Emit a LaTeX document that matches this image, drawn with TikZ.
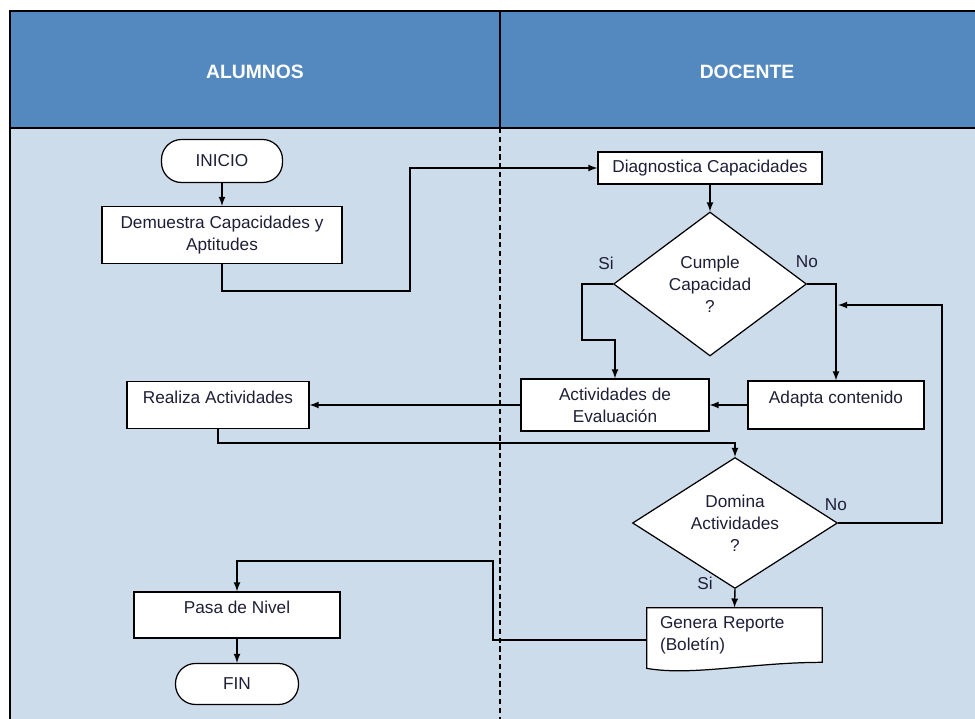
\documentclass[tikz,border=0pt]{standalone}
\usepackage{fontspec}
\setmainfont{Liberation Sans}
\usepackage{tikz}
\usetikzlibrary{arrows}
\usetikzlibrary{shapes.geometric}
\usetikzlibrary{backgrounds}
\definecolor{headblue}{RGB}{84,137,192}
\definecolor{lanefill}{RGB}{205,220,234}
\definecolor{inkdark}{RGB}{30,30,55}
\tikzset {
  >=latex,
  font=\fontsize{9.8pt}{12.5pt}\selectfont,
  % plain process boxes
  proc/.style = {draw, fill=white, text=inkdark, align=center, inner sep=0pt, line width=0.7pt},
  % boxes with the text near the top
  topproc/.style = {proc, text depth=0.3cm},
  % start and end
  term/.style = {proc, rounded corners=0.4cm},
  % questions
  decision/.style = {draw, diamond, fill=white, text=inkdark, align=center, inner sep=0pt, line width=0.7pt},
  % report, its wavy outline is drawn by hand
  report/.style = {text=inkdark, align=left, inner xsep=0.26cm, text width=2.98cm, minimum height=1.08cm},
  % connectors
  flow/.style = {->, line width=0.8pt},
  lbl/.style = {text=inkdark},
  lanehead/.style = {text=white, font=\fontsize{11pt}{13pt}\selectfont\bfseries},
}

\begin{document}
\begin{tikzpicture}[x=0.02cm, y=-0.02cm]
        \useasboundingbox (0,0) rectangle (975,719);
        \begin{pgfonlayer}{background}
          \fill[lanefill] (10,128) rectangle (975,719);
          \fill[headblue] (10,11) rectangle (975,128);
        \end{pgfonlayer}
        \draw[line width=0.8pt] (975,11) -- (10,11) -- (10,719);
        \draw[line width=0.8pt] (10,128) -- (975,128);
        \draw[line width=0.8pt] (500,11) -- (500,128);
        \draw[line width=0.8pt, dash pattern=on 3pt off 2pt] (500,128) -- (500,719);

        \node[lanehead] (halu) at (255,72) {ALUMNOS};
        \node[lanehead] (hdoc) at (747,72) {DOCENTE};

        % alumnos
        \node[term, minimum width=2.42cm, minimum height=0.86cm] (ini) at (222,161) {INICIO};
        \node[proc, minimum width=4.8cm, minimum height=1.14cm] (dem) at (222,235) {Demuestra Capacidades y\\Aptitudes};
        \node[topproc, minimum width=3.64cm, minimum height=0.94cm] (rea) at (218,405) {Realiza Actividades};
        \node[topproc, minimum width=4.12cm, minimum height=0.92cm] (pas) at (237,615) {Pasa de Nivel};
        \node[term, minimum width=2.46cm, minimum height=0.82cm] (fin) at (237,684) {FIN};

        % docente
        \node[proc, minimum width=4.48cm, minimum height=0.64cm] (diag) at (710,168) {Diagnostica Capacidades};
        \node[decision, aspect=1.34, minimum width=3.86cm, minimum height=2.88cm] (cum) at (710,284) {Cumple\\Capacidad\\?};
        \node[proc, minimum width=3.76cm, minimum height=1.04cm] (act) at (615,405) {Actividades de\\Evaluación};
        \node[topproc, minimum width=3.52cm, minimum height=0.96cm] (ada) at (836,405) {Adapta contenido};
        \node[decision, aspect=1.56, minimum width=4.1cm, minimum height=2.62cm] (dom) at (735,523) {Domina\\Actividades\\?};
        \node[report] (rep) at (734.5,635) {Genera Reporte\\(Boletín)};
        \begin{pgfonlayer}{background}
          \draw[fill=white, line width=0.7pt] (rep.north west) -- (rep.north east) -- (rep.south east)
            .. controls +(-70,0) and +(45,8) .. ([yshift=-0.12cm]rep.south west) -- cycle;
        \end{pgfonlayer}

        \node[lbl] (csi) at (606,263) {Si};
        \node[lbl] (cno) at (807,262) {No};
        \node[lbl] (dno) at (836,505) {No};
        \node[lbl] (dsi) at (705,583) {Si};

        \coordinate (c1) at (410,291);
        \coordinate (c2) at (582,340);
        \coordinate (c3) at (735,443);
        \coordinate (c4) at (942,305);
        \coordinate (c5) at (838,305);
        \coordinate (c6) at (493,561);

        \draw[flow] (ini) -- (dem);
        \draw[flow] (dem.south) |- (c1) |- (diag.west);
        \draw[flow] (diag) -- (cum);
        \draw[flow] (cum.west) -| (c2) -| (act.north);
        \draw[flow] (cum.east) -| (ada.north);
        \draw[flow] (ada.west) -- (act.east);
        \draw[flow] (act.west) -- (rea.east);
        \draw[flow] (rea.south) |- (c3) -- (dom.north);
        \draw[flow] (dom.east) -| (c4) -- (c5);
        \draw[flow] (dom.south) -- (rep.north);
        \draw[flow] ([yshift=-0.1cm]rep.west) -| (c6) -| (pas.north);
        \draw[flow] (pas) -- (fin);
      \end{tikzpicture}
\end{document}
